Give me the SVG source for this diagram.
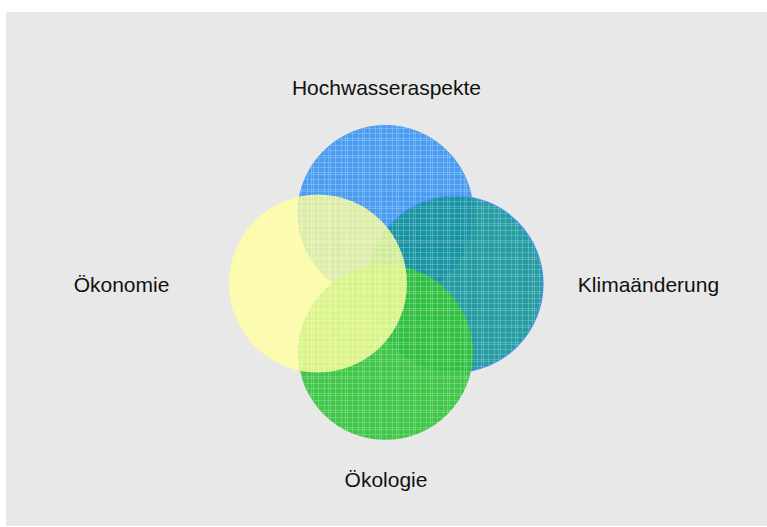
<svg xmlns="http://www.w3.org/2000/svg" width="767" height="527" viewBox="0 0 767 527">
  <style>
    .lbl { font-family: "Liberation Sans", Arial, sans-serif; font-size: 21px; fill: #111111; text-anchor: middle; }
    .grid { fill: url(#grid); }
  </style>
  <defs>
    <pattern id="grid" patternUnits="userSpaceOnUse" width="17" height="17">
      <g stroke="#ffffff" stroke-width="1" stroke-opacity="0.2">
        <line x1="1.5" y1="0" x2="1.5" y2="17"/>
        <line x1="5.5" y1="0" x2="5.5" y2="17"/>
        <line x1="7.5" y1="0" x2="7.5" y2="17"/>
        <line x1="12.5" y1="0" x2="12.5" y2="17"/>
        <line x1="0" y1="2.5" x2="17" y2="2.5"/>
        <line x1="0" y1="4.5" x2="17" y2="4.5"/>
        <line x1="0" y1="9.5" x2="17" y2="9.5"/>
        <line x1="0" y1="14.5" x2="17" y2="14.5"/>
      </g>
    </pattern>
  </defs>
  <rect x="6" y="12" width="761" height="514" fill="#e8e8e8"/>

  <g id="hochwasser">
    <circle cx="385.5" cy="213" r="87.5" fill="#4a9cf0" stroke="#4a9cf0" stroke-width="1"/>
    <circle cx="385.5" cy="213" r="87.5" class="grid"/>
    <text class="lbl" x="386.5" y="95">Hochwasseraspekte</text>
  </g>
  <g id="klima">
    <circle cx="455" cy="284" r="88" fill="#11949a" fill-opacity="0.9" stroke="#3c8ef0" stroke-width="1.2"/>
    <circle cx="455" cy="284" r="88" class="grid"/>
    <text class="lbl" x="648.5" y="292">Klimaänderung</text>
  </g>
  <g id="oekologie">
    <circle cx="385.5" cy="352.5" r="87.5" fill="#33c33c" fill-opacity="0.93"/>
    <circle cx="385.5" cy="352.5" r="87.5" class="grid"/>
    <text class="lbl" x="386" y="487">Ökologie</text>
  </g>
  <g id="oekonomie">
    <circle cx="318" cy="283.5" r="89" fill="#ffff99" fill-opacity="0.8"/>
    <circle cx="318" cy="283.5" r="89" class="grid" opacity="0.8"/>
    <text class="lbl" x="121.5" y="292">Ökonomie</text>
  </g>
  <g id="connectors"></g>
</svg>
